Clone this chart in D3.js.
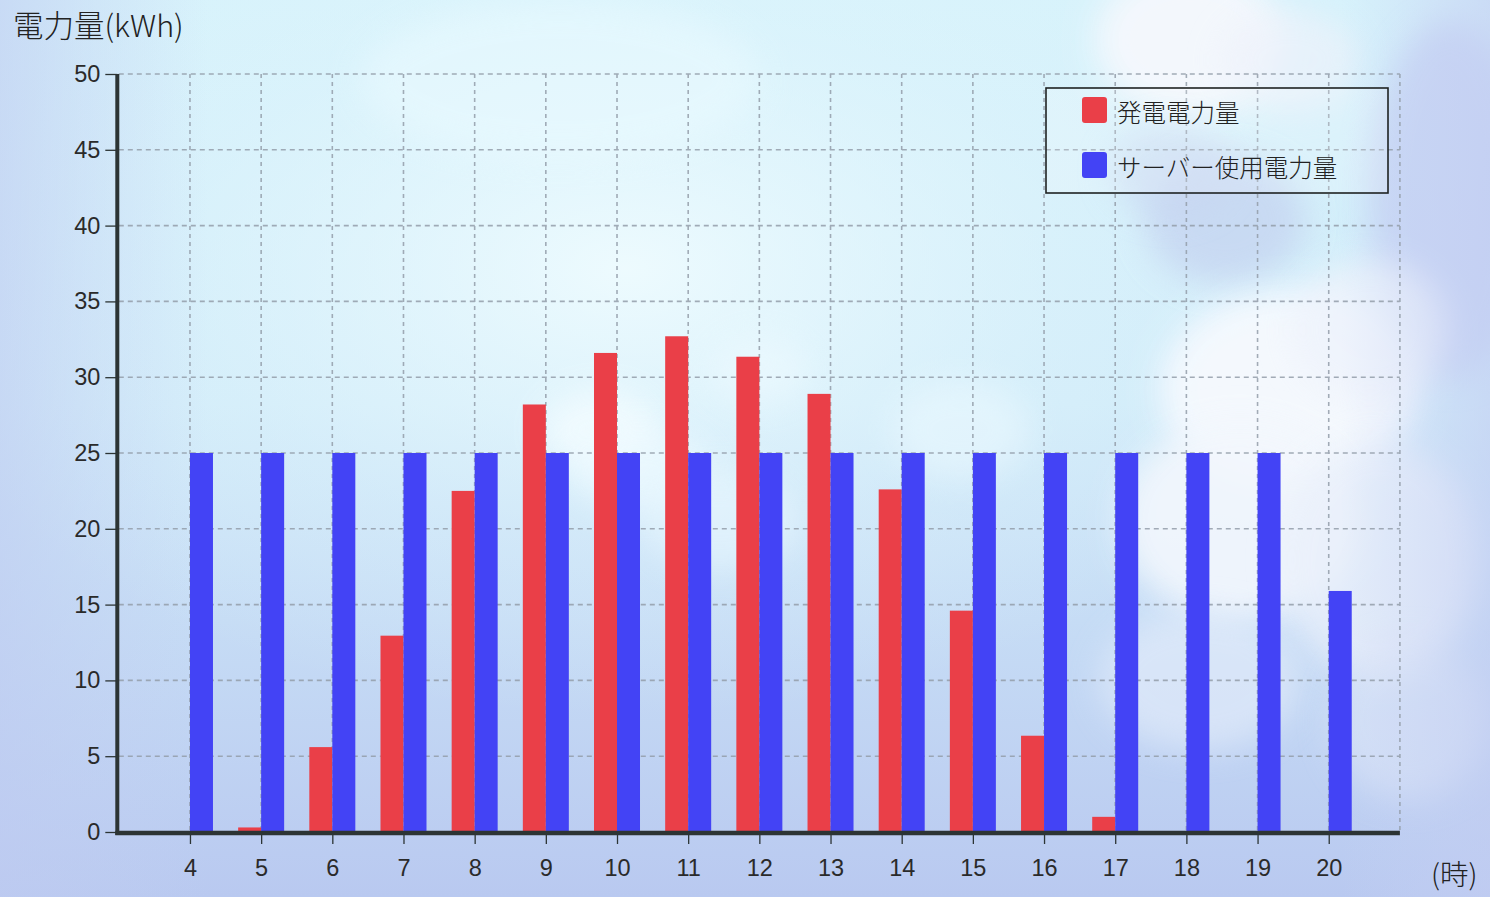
<!DOCTYPE html>
<html>
<head>
<meta charset="utf-8">
<script src="https://cdn.jsdelivr.net/npm/d3@7"></script>
<style>
  html, body { margin: 0; padding: 0; overflow: hidden; }
  svg { display: block; }
</style>
</head>
<body>
<script>
// Hourly energy: generation vs. server consumption (kWh)
const hours = [4, 5, 6, 7, 8, 9, 10, 11, 12, 13, 14, 15, 16, 17, 18, 19, 20];
const generation = [0, 0.3, 5.6, 12.95, 22.5, 28.2, 31.6, 32.7, 31.35, 28.9, 22.6, 14.6, 6.35, 1.0, 0, 0, 0];
const serverUse = [25, 25, 25, 25, 25, 25, 25, 25, 25, 25, 25, 25, 25, 25, 25, 25, 15.9];
const yTicks = [0, 5, 10, 15, 20, 25, 30, 35, 40, 45, 50];
const seriesNames = ["発電電力量", "サーバー使用電力量"];
const seriesColors = ["#ea3f48", "#4343f5"];

const W = 1490, H = 897;
const svg = d3.select("body").append("svg").attr("width", W).attr("height", H);
const defs = svg.append("defs");

// ---- sky background ----
const sky = defs.append("linearGradient").attr("id", "sky")
  .attr("x1", 0).attr("y1", 0).attr("x2", 0).attr("y2", 1);
sky.append("stop").attr("offset", "0%").attr("stop-color", "#d6f2fb");
sky.append("stop").attr("offset", "45%").attr("stop-color", "#d0ebf9");
sky.append("stop").attr("offset", "100%").attr("stop-color", "#b9c9f0");

const glow = defs.append("radialGradient").attr("id", "glow")
  .attr("cx", 0.42).attr("cy", 0.3).attr("r", 0.5);
glow.append("stop").attr("offset", "0%").attr("stop-color", "#f2fdff").attr("stop-opacity", 0.85);
glow.append("stop").attr("offset", "60%").attr("stop-color", "#e4f7fd").attr("stop-opacity", 0.3);
glow.append("stop").attr("offset", "100%").attr("stop-color", "#e4f7fd").attr("stop-opacity", 0);

const sideShade = defs.append("linearGradient").attr("id", "sideShade")
  .attr("x1", 0).attr("y1", 0).attr("x2", 1).attr("y2", 0);
sideShade.append("stop").attr("offset", "0%").attr("stop-color", "#bfcbf1").attr("stop-opacity", 0.6);
sideShade.append("stop").attr("offset", "14%").attr("stop-color", "#c2cff2").attr("stop-opacity", 0);
sideShade.append("stop").attr("offset", "90%").attr("stop-color", "#c8d2f4").attr("stop-opacity", 0);
sideShade.append("stop").attr("offset", "100%").attr("stop-color", "#c3cdf2").attr("stop-opacity", 0.6);

defs.append("filter").attr("id", "cloudBlur")
  .attr("x", "-50%").attr("y", "-50%").attr("width", "200%").attr("height", "200%")
  .append("feGaussianBlur").attr("stdDeviation", 16);

svg.append("rect").attr("width", W).attr("height", H).attr("fill", "url(#sky)");
svg.append("rect").attr("width", W).attr("height", H).attr("fill", "url(#glow)");

// clouds: soft puffs, shadows first, bright tops after
const clouds = svg.append("g");
const cloudPuffs = [
  // lavender sky at the far right
  [1450, 200, 80, 180, "#c5d0f3", 0.8],
  // right-hand cloud bank
  [1190, 40, 95, 75, "#f5f8fd", 0.95],
  [1290, 60, 70, 50, "#eef2fb", 0.7],
  [1225, 220, 80, 65, "#c2cfef", 0.65],
  [1170, 170, 60, 45, "#c8d5f1", 0.55],
  [1290, 390, 130, 100, "#f6f9fe", 0.95],
  [1370, 330, 80, 70, "#eef3fc", 0.8],
  [1240, 520, 120, 100, "#f3f7fd", 0.9],
  [1380, 560, 100, 120, "#eaf0fb", 0.8],
  [1200, 680, 100, 70, "#e6eefb", 0.6],
  [1410, 720, 80, 80, "#dfe7f8", 0.6],
  // small clouds in the middle
  [600, 430, 60, 40, "#f3fcff", 0.85],
  [640, 470, 70, 40, "#eefaff", 0.7],
  [760, 370, 50, 35, "#eefaff", 0.55],
  [720, 520, 80, 50, "#eaf8ff", 0.55],
  [960, 430, 70, 50, "#eefaff", 0.5],
  // haze near the top centre
  [560, 80, 200, 80, "#eafaff", 0.55]
];
clouds.selectAll("ellipse").data(cloudPuffs).join("ellipse")
  .attr("cx", d => d[0]).attr("cy", d => d[1])
  .attr("rx", d => d[2]).attr("ry", d => d[3])
  .attr("fill", d => d[4]).attr("opacity", d => d[5])
  .attr("filter", "url(#cloudBlur)");
svg.append("rect").attr("width", W).attr("height", H).attr("fill", "url(#sideShade)");

// ---- scales ----
const x = d3.scaleLinear().domain([3, 21]).range([118.8, 1399.9]);
const y = d3.scaleLinear().domain([0, 50]).range([832, 74]);
const barW = 23;

// ---- grid ----
const grid = svg.append("g").attr("stroke", "#949eaa").attr("stroke-width", 1.6)
  .attr("opacity", 0.85);
grid.selectAll("line.h").data(yTicks.filter(t => t > 0)).join("line")
  .attr("class", "h")
  .attr("x1", x(3)).attr("x2", x(21))
  .attr("y1", d => y(d)).attr("y2", d => y(d))
  .attr("stroke-dasharray", "5,4");
grid.selectAll("line.v").data(hours.concat([21])).join("line")
  .attr("class", "v")
  .attr("x1", d => x(d)).attr("x2", d => x(d))
  .attr("y1", y(50)).attr("y2", y(0))
  .attr("stroke-dasharray", "4,4");

// ---- bars ----
const bars = svg.append("g");
bars.selectAll("rect.gen").data(hours).join("rect")
  .attr("class", "gen")
  .attr("x", d => x(d) - barW)
  .attr("width", barW)
  .attr("y", (d, i) => y(generation[i]))
  .attr("height", (d, i) => y(0) - y(generation[i]))
  .attr("fill", seriesColors[0]);
bars.selectAll("rect.use").data(hours).join("rect")
  .attr("class", "use")
  .attr("x", d => x(d))
  .attr("width", barW)
  .attr("y", (d, i) => y(serverUse[i]))
  .attr("height", (d, i) => y(0) - y(serverUse[i]))
  .attr("fill", seriesColors[1]);

// ---- axes ----
const axisColor = "#2c3434";
const fontNum = "'Liberation Sans', Arial, sans-serif";

const yAxis = svg.append("g").attr("transform", `translate(${x(3) - 1.5},0)`)
  .call(d3.axisLeft(y).tickValues(yTicks).tickSize(12).tickPadding(5));
yAxis.select(".domain").remove();
yAxis.selectAll(".tick line").attr("stroke", axisColor).attr("stroke-width", 1.3);
yAxis.selectAll(".tick text").attr("fill", "#2a2a2a").attr("font-size", 23.5)
  .attr("font-family", fontNum);

const xAxis = svg.append("g").attr("transform", `translate(0,${y(0) + 1})`)
  .call(d3.axisBottom(x).tickValues(hours).tickFormat(d3.format("d")).tickSize(11).tickPadding(15));
xAxis.select(".domain").remove();
xAxis.selectAll(".tick line").attr("stroke", axisColor).attr("stroke-width", 1.3);
xAxis.selectAll(".tick text").attr("fill", "#2a2a2a").attr("font-size", 23.5)
  .attr("font-family", fontNum);

// axis lines
svg.append("line")
  .attr("x1", x(3) - 1.5).attr("x2", x(3) - 1.5)
  .attr("y1", y(50)).attr("y2", y(0) + 3)
  .attr("stroke", axisColor).attr("stroke-width", 4);
svg.append("line")
  .attr("x1", x(3) - 3.5).attr("x2", x(21))
  .attr("y1", y(0) + 1).attr("y2", y(0) + 1)
  .attr("stroke", axisColor).attr("stroke-width", 4.5);

// ---- titles ----
const fontJa = "'Noto Sans CJK JP', 'Noto Sans', sans-serif";
svg.append("text").attr("x", 13).attr("y", 37)
  .attr("font-family", fontJa).attr("font-size", 30.5).attr("font-weight", 300).attr("fill", "#222")
  .text("電力量(kWh)");
svg.append("text").attr("x", 1431).attr("y", 885)
  .attr("font-family", fontJa).attr("font-size", 28.5).attr("font-weight", 300).attr("fill", "#222")
  .text("(時)");

// ---- legend ----
const legend = svg.append("g").attr("transform", "translate(1046,88)");
legend.append("rect").attr("width", 342).attr("height", 105)
  .attr("fill", "#ffffff").attr("fill-opacity", 0.18)
  .attr("stroke", "#1e2222").attr("stroke-width", 1.6);
const items = legend.selectAll("g.item").data(seriesNames).join("g")
  .attr("class", "item")
  .attr("transform", (d, i) => `translate(0,${i * 55})`);
items.append("rect").attr("x", 36).attr("y", 9).attr("width", 25).attr("height", 26)
  .attr("rx", 3).attr("fill", (d, i) => seriesColors[i]);
items.append("text").attr("x", 71).attr("y", 27).attr("dominant-baseline", "middle")
  .attr("font-family", fontJa).attr("font-size", 24.5).attr("font-weight", 300).attr("fill", "#222")
  .text(d => d);
</script>
</body>
</html>
